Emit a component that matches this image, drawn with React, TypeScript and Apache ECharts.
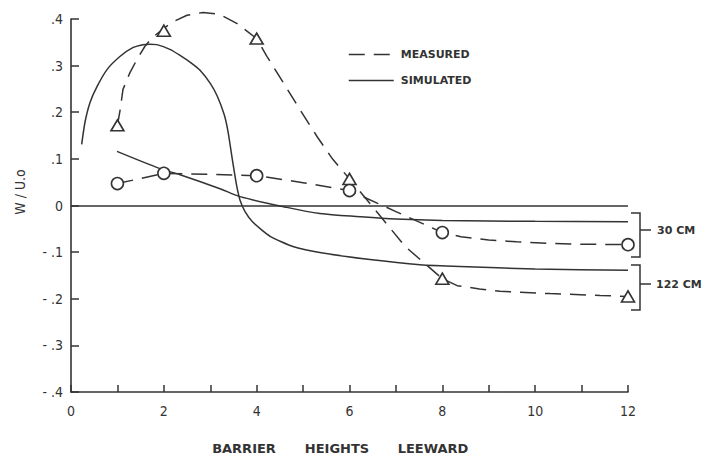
import React, { useEffect, useRef } from "react";
import * as echarts from "echarts";

// Marker positions (barrier heights leeward) and measured values
const markerX = [1, 2, 4, 6, 8, 12];
const measured30 = [0.047, 0.069, 0.064, 0.032, -0.058, -0.084];
const measured122 = [0.172, 0.375, 0.358, 0.057, -0.157, -0.195];

// Measured (dashed) curves through the markers
const measured30CurveX = [1, 2, 3, 4, 5, 6, 7, 8, 8.4, 9, 9.6, 10.3, 11, 12];
const measured30CurveY = [0.047, 0.069, 0.067, 0.064, 0.049, 0.032, -0.013, -0.058, -0.067, -0.074, -0.078, -0.081, -0.083, -0.084];

const measured122CurveX = [1, 1.06, 1.12, 1.27, 1.42, 1.59, 1.75, 2, 2.2, 2.5, 2.84, 3.2, 3.58, 4, 4.22, 4.57, 4.93, 5.3, 5.64, 6, 6.6, 7.2, 8, 8.32, 8.8, 9.24, 10.32, 11.4, 12];
const measured122CurveY = [0.172, 0.206, 0.249, 0.285, 0.313, 0.341, 0.36, 0.38, 0.394, 0.408, 0.414, 0.41, 0.39, 0.358, 0.32, 0.264, 0.206, 0.148, 0.099, 0.057, -0.015, -0.088, -0.157, -0.172, -0.179, -0.184, -0.189, -0.193, -0.195];

// Simulated (solid) curves
const simulated30X = [0.99, 1.92, 2.35, 3.21, 3.64, 4.65, 5.36, 6.23, 7, 8, 10, 12];
const simulated30Y = [0.116, 0.079, 0.066, 0.036, 0.019, -0.004, -0.017, -0.024, -0.029, -0.032, -0.034, -0.035];

const simulated122X = [0.23, 0.3, 0.41, 0.56, 0.78, 1.06, 1.34, 1.55, 1.7, 1.85, 2.13, 2.35, 2.6, 2.78, 3.0, 3.15, 3.3, 3.38, 3.49, 3.57, 3.64, 3.75, 3.92, 4.29, 4.78, 5.36, 6.44, 7.52, 8.38, 10, 12];
const simulated122Y = [0.131, 0.178, 0.221, 0.255, 0.292, 0.32, 0.339, 0.345, 0.346, 0.345, 0.335, 0.322, 0.305, 0.29, 0.262, 0.235, 0.195, 0.16, 0.09, 0.042, 0.012, -0.013, -0.036, -0.066, -0.088, -0.101, -0.116, -0.127, -0.131, -0.136, -0.139];

const xTickLabels = ["0", "2", "4", "6", "8", "10", "12"];
const yTickLabels: Record<string, string> = {
  "4": ".4", "3": ".3", "2": ".2", "1": ".1", "0": "0",
  "-1": "- .1", "-2": "- .2", "-3": "- .3", "-4": "- .4",
};
const legendNames = ["MEASURED", "SIMULATED"];
const bracketLabels = ["30 CM", "122 CM"];
const xTitleWords = ["BARRIER", "HEIGHTS", "LEEWARD"];
const yTitle = "W / U.o";

const INK = "#333333";
const NARROW = "'Liberation Sans Narrow', 'DejaVu Sans Condensed', 'Arial Narrow', sans-serif";
const WIDE = "'DejaVu Sans', 'Liberation Sans', sans-serif";

const zip = (xs: number[], ys: number[]) => xs.map((x, i) => [x, ys[i]]);

export default function App() {
  const ref = useRef<HTMLDivElement>(null);

  useEffect(() => {
    if (!ref.current) return;
    const chart = echarts.init(ref.current, undefined, { renderer: "svg" });
    const dash = [16, 9];

    const bracket = (top: number, bottom: number, mid: number) => [
      {
        type: "polyline",
        shape: { points: [[631, top], [640, top], [640, bottom], [631, bottom]] },
        style: { stroke: INK, lineWidth: 1.5, fill: "none" },
      },
      {
        type: "line",
        shape: { x1: 640, y1: mid, x2: 651, y2: mid },
        style: { stroke: INK, lineWidth: 1.5 },
      },
    ];

    chart.setOption({
      animation: false,
      backgroundColor: "#ffffff",
      grid: { left: 71, right: 78, top: 19, bottom: 65, containLabel: false },
      xAxis: {
        type: "value",
        min: 0,
        max: 12,
        interval: 1,
        axisLine: { show: true, onZero: false, lineStyle: { color: INK, width: 1.6 } },
        axisTick: { show: true, inside: true, length: 7, lineStyle: { color: INK, width: 1.5 } },
        splitLine: { show: false },
        axisLabel: {
          color: INK,
          fontFamily: NARROW,
          fontSize: 14,
          margin: 12,
          formatter: (v: number) => (Math.round(v) % 2 === 0 ? xTickLabels[Math.round(v) / 2] : ""),
        },
      },
      yAxis: {
        type: "value",
        min: -0.4,
        max: 0.4,
        interval: 0.1,
        axisLine: { show: true, onZero: false, lineStyle: { color: INK, width: 1.6 } },
        axisTick: { show: true, inside: true, length: 8, lineStyle: { color: INK, width: 1.5 } },
        splitLine: { show: false },
        axisLabel: {
          color: INK,
          fontFamily: NARROW,
          fontSize: 14,
          margin: 8,
          formatter: (v: number) => yTickLabels[String(Math.round(v * 10))] ?? "",
        },
      },
      legend: {
        data: legendNames,
        orient: "vertical",
        left: 348,
        top: 49,
        padding: 0,
        itemWidth: 45,
        itemHeight: 10,
        itemGap: 15,
        itemStyle: { opacity: 0 },
        lineStyle: { color: INK, width: 1.5, opacity: 1 },
        textStyle: { color: INK, fontFamily: WIDE, fontSize: 11, fontWeight: "bold", padding: [0, 0, 0, 2] },
        selectedMode: false,
      },
      series: [
        {
          name: "MEASURED",
          type: "line",
          data: zip(measured122CurveX, measured122CurveY),
          symbol: "none",
          clip: false,
          lineStyle: { color: INK, width: 1.5, type: dash },
          itemStyle: { color: INK },
          z: 2,
        },
        {
          name: "MEASURED",
          type: "line",
          data: zip(measured30CurveX, measured30CurveY),
          symbol: "none",
          clip: false,
          lineStyle: { color: INK, width: 1.5, type: dash },
          itemStyle: { color: INK },
          z: 2,
        },
        {
          name: "SIMULATED",
          type: "line",
          data: zip(simulated122X, simulated122Y),
          symbol: "none",
          smooth: 0.2,
          clip: false,
          lineStyle: { color: INK, width: 1.5, type: "solid" },
          itemStyle: { color: INK },
          z: 2,
          markLine: {
            silent: true,
            symbol: ["none", "none"],
            label: { show: false },
            lineStyle: { color: INK, width: 1.5, type: "solid" },
            data: [{ yAxis: 0 }],
          },
        },
        {
          name: "SIMULATED",
          type: "line",
          data: zip(simulated30X, simulated30Y),
          symbol: "none",
          smooth: 0.3,
          clip: false,
          lineStyle: { color: INK, width: 1.5, type: "solid" },
          itemStyle: { color: INK },
          z: 2,
        },
        {
          name: "122 CM measured",
          type: "scatter",
          data: zip(markerX, measured122),
          symbol: "triangle",
          symbolSize: [13, 11],
          itemStyle: { color: "#ffffff", borderColor: INK, borderWidth: 1.6, opacity: 1 },
          z: 5,
        },
        {
          name: "30 CM measured",
          type: "scatter",
          data: zip(markerX, measured30),
          symbol: "circle",
          symbolSize: 12,
          itemStyle: { color: "#ffffff", borderColor: INK, borderWidth: 1.6, opacity: 1 },
          z: 5,
        },
      ],
      graphic: [
        ...bracket(213, 257, 230),
        ...bracket(265, 310, 284),
        {
          type: "text",
          x: 657,
          y: 230,
          style: { text: bracketLabels[0], fill: INK, font: `bold 11px ${WIDE}`, verticalAlign: "middle", align: "left" },
        },
        {
          type: "text",
          x: 656,
          y: 284,
          style: { text: bracketLabels[1], fill: INK, font: `bold 11px ${WIDE}`, verticalAlign: "middle", align: "left" },
        },
        {
          type: "text",
          x: 20,
          y: 192,
          rotation: Math.PI / 2,
          style: { text: yTitle, fill: INK, font: `14px ${NARROW}`, align: "center", verticalAlign: "middle" },
        },
        {
          type: "text",
          x: 244,
          y: 448,
          style: { text: xTitleWords[0], fill: INK, font: `bold 13px ${WIDE}`, align: "center", verticalAlign: "middle" },
        },
        {
          type: "text",
          x: 337,
          y: 448,
          style: { text: xTitleWords[1], fill: INK, font: `bold 13px ${WIDE}`, align: "center", verticalAlign: "middle" },
        },
        {
          type: "text",
          x: 433,
          y: 448,
          style: { text: xTitleWords[2], fill: INK, font: `bold 13px ${WIDE}`, align: "center", verticalAlign: "middle" },
        },
      ],
    });

    return () => chart.dispose();
  }, []);

  return (
    <div
      ref={ref}
      style={{ position: "fixed", left: 0, top: 0, width: 706, height: 457, background: "#fff" }}
    />
  );
}
